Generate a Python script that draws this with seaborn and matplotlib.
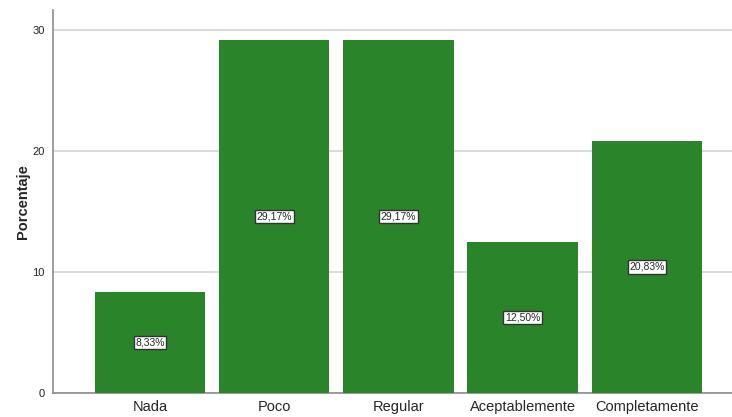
import pandas as pd
import matplotlib.pyplot as plt
import seaborn as sns

categorias = ["Nada", "Poco", "Regular", "Aceptablemente", "Completamente"]
porcentajes = [8.33, 29.17, 29.17, 12.50, 20.83]
etiquetas = ["8,33%", "29,17%", "29,17%", "12,50%", "20,83%"]

df = pd.DataFrame({"Categoria": categorias, "Porcentaje": porcentajes})

sns.set_style("white")
plt.rcParams['font.family'] = ['Liberation Sans', 'DejaVu Sans']

fig = plt.figure(figsize=(7.32, 4.17), dpi=100)
ax = fig.add_axes([53 / 732, 1 - 393 / 417, 1 - 53 / 732, 383 / 417])

sns.barplot(data=df, x="Categoria", y="Porcentaje", order=categorias,
            color="#2a852a", saturation=1, width=0.89, linewidth=0,
            ax=ax, zorder=3)

ax.set_xlim(-0.78, 4.684)
ax.set_ylim(0, 31.65)
ax.set_yticks([0, 10, 20, 30])
ax.yaxis.grid(True, color="#d4d4d4", linewidth=1.2, zorder=0)
ax.set_axisbelow(True)

for s in ["top", "right"]:
    ax.spines[s].set_visible(False)
for s in ["left", "bottom"]:
    ax.spines[s].set_color("#8c8c8c")
    ax.spines[s].set_linewidth(1.2)

ax.tick_params(axis="y", length=0, labelsize=8, pad=6)
ax.tick_params(axis="x", length=0, labelsize=10.5, pad=5)
ax.set_xlabel("")
ax.set_ylabel("Porcentaje", fontsize=10.5, fontweight="bold", labelpad=2)

for i, (v, t) in enumerate(zip(porcentajes, etiquetas)):
    ax.text(i, v / 2, t, ha="center", va="center", fontsize=7.5, zorder=5,
            bbox=dict(boxstyle="square,pad=0.15", facecolor="white",
                      edgecolor="#333333", linewidth=1))

plt.savefig("out.png", dpi=100)
